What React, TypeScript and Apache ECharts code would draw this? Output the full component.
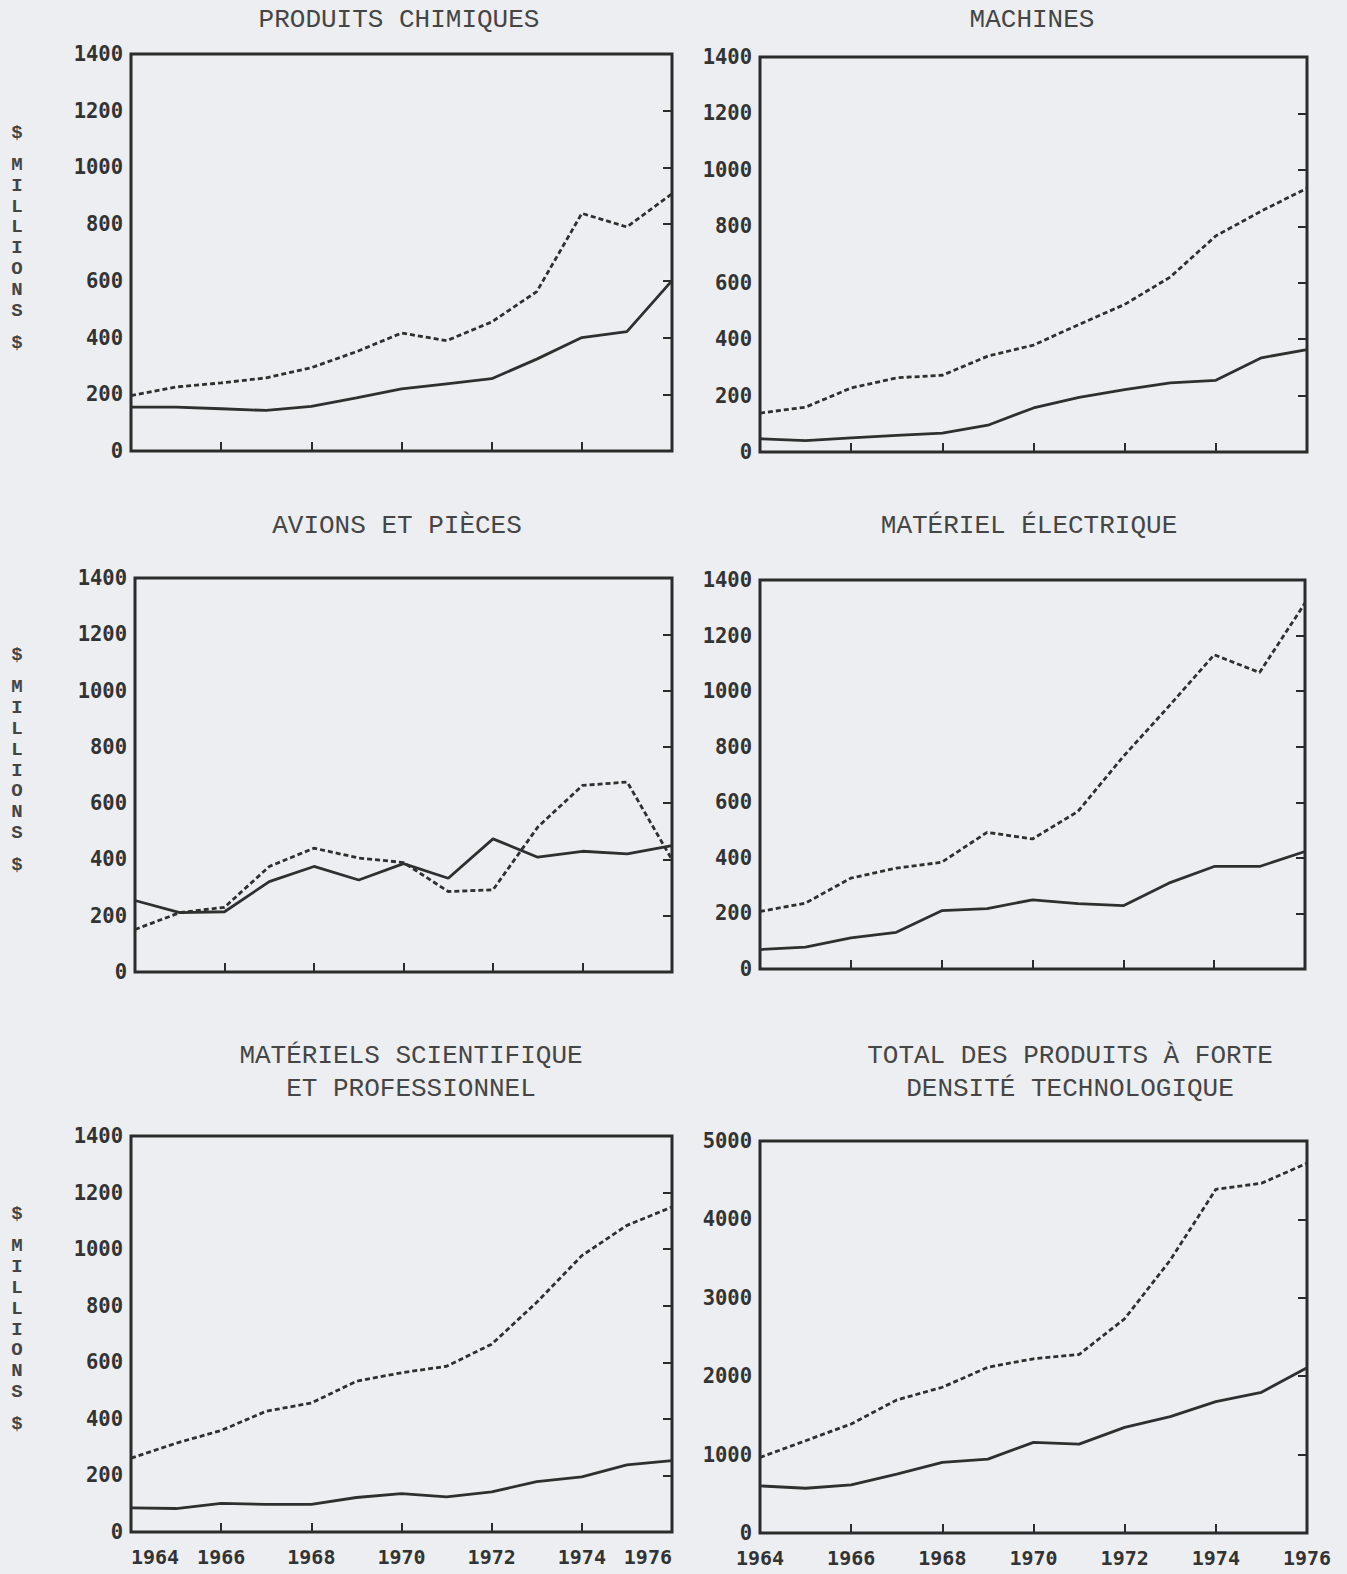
import React, { useEffect, useRef } from "react";
import * as echarts from "echarts";

const years = ["1964", "1965", "1966", "1967", "1968", "1969", "1970", "1971", "1972", "1973", "1974", "1975", "1976"];

const chimiquesExports = [155, 155, 149, 143, 157, 187, 219, 237, 255, 324, 400, 421, 601];
const chimiquesImports = [195, 226, 240, 258, 294, 350, 416, 389, 455, 562, 838, 790, 907];
const machinesExports = [47, 40, 50, 59, 67, 95, 156, 194, 221, 245, 254, 334, 363];
const machinesImports = [138, 159, 227, 263, 272, 340, 379, 452, 523, 620, 766, 854, 935];
const avionsExports = [254, 211, 214, 321, 375, 327, 385, 333, 473, 408, 429, 420, 449];
const avionsImports = [151, 211, 230, 375, 440, 405, 389, 286, 292, 515, 663, 675, 399];
const electriqueExports = [70, 79, 112, 132, 210, 217, 249, 235, 228, 309, 369, 369, 423];
const electriqueImports = [207, 237, 327, 363, 384, 492, 468, 567, 765, 945, 1131, 1067, 1317];
const scientExports = [85, 83, 101, 98, 98, 122, 136, 124, 142, 178, 195, 237, 252];
const scientImports = [261, 314, 359, 427, 456, 533, 563, 586, 664, 812, 977, 1084, 1149];
const totalExports = [601, 571, 614, 750, 900, 942, 1156, 1134, 1348, 1484, 1676, 1795, 2107];
const totalImports = [964, 1177, 1390, 1697, 1859, 2115, 2222, 2277, 2733, 3480, 4384, 4461, 4716];

const panelTitles = [
  ["PRODUITS CHIMIQUES"],
  ["MACHINES"],
  ["AVIONS ET PIÈCES"],
  ["MATÉRIEL ÉLECTRIQUE"],
  ["MATÉRIELS SCIENTIFIQUE", "ET PROFESSIONNEL"],
  ["TOTAL DES PRODUITS À FORTE", "DENSITÉ TECHNOLOGIQUE"],
];
const panelMax = [1400, 1400, 1400, 1400, 1400, 5000];
const panelInterval = [200, 200, 200, 200, 200, 1000];
const panelData = [
  [chimiquesExports, chimiquesImports],
  [machinesExports, machinesImports],
  [avionsExports, avionsImports],
  [electriqueExports, electriqueImports],
  [scientExports, scientImports],
  [totalExports, totalImports],
];

const grids = [
  { left: 131, top: 54, width: 541, height: 397 },
  { left: 760, top: 57, width: 547, height: 395 },
  { left: 135, top: 578, width: 537, height: 394 },
  { left: 760, top: 580, width: 545, height: 389 },
  { left: 131, top: 1136, width: 541, height: 396 },
  { left: 760, top: 1141, width: 547, height: 392 },
];
const titlePos = [
  { x: 399, y: [20] },
  { x: 1032, y: [20] },
  { x: 397, y: [526] },
  { x: 1029, y: [526] },
  { x: 411, y: [1056, 1089] },
  { x: 1070, y: [1056, 1089] },
];

const INK = "#2b2b2b";
const LABEL_FONT = "'DejaVu Sans Mono', monospace";
const TITLE_FONT = "'Liberation Mono', 'Courier New', monospace";

export default function App() {
  const ref = useRef<HTMLDivElement>(null);
  useEffect(() => {
    document.body.style.margin = "0";
    document.body.style.overflow = "hidden";
    const chart = echarts.init(ref.current!, null, { renderer: "svg" });
    const xAxis: any[] = [];
    const yAxis: any[] = [];
    const series: any[] = [];
    const graphic: any[] = [];
    grids.forEach((g, i) => {
      const bottomRow = i >= 4;
      const leftCol = i % 2 === 0;
      xAxis.push({
        type: "category",
        gridIndex: i,
        data: years,
        boundaryGap: false,
        axisLine: { show: false },
        axisTick: { show: true, inside: true, length: 9, lineStyle: { color: INK, width: 2 } },
        axisLabel: {
          show: bottomRow,
          interval: 1,
          margin: 15,
          fontFamily: LABEL_FONT,
          fontWeight: "bold",
          fontSize: 20,
          color: "#333",
          alignMinLabel: leftCol ? "left" : "center",
          alignMaxLabel: leftCol ? "right" : "center",
        },
        splitLine: { show: false },
      });
      yAxis.push({
        type: "value",
        gridIndex: i,
        min: 0,
        max: panelMax[i],
        interval: panelInterval[i],
        axisLine: { show: false },
        axisTick: { show: false },
        axisLabel: {
          margin: 8,
          padding: [0, 0, 10, 0],
          fontFamily: LABEL_FONT,
          fontWeight: "bold",
          fontSize: 20.5,
          color: "#333",
          formatter: (v: number) => String(v),
        },
        splitLine: { show: false },
      });
      yAxis.push({
        type: "value",
        gridIndex: i,
        position: "right",
        min: 0,
        max: panelMax[i],
        interval: panelInterval[i],
        axisLine: { show: false },
        axisTick: { show: true, inside: true, length: 9, lineStyle: { color: INK, width: 2 } },
        axisLabel: { show: false },
        splitLine: { show: false },
      });
      const [exp, imp] = panelData[i];
      series.push({
        type: "line",
        name: "Exportations",
        xAxisIndex: i,
        yAxisIndex: 2 * i,
        data: exp,
        symbol: "none",
        lineStyle: { color: "#2f2f2f", width: 2.8, type: "solid" },
      });
      series.push({
        type: "line",
        name: "Importations",
        xAxisIndex: i,
        yAxisIndex: 2 * i,
        data: imp,
        symbol: "none",
        lineStyle: { color: "#2f2f2f", width: 2.8, type: [5, 3] },
      });
      panelTitles[i].forEach((t, k) => {
        graphic.push({
          type: "text",
          x: titlePos[i].x,
          y: titlePos[i].y[k],
          style: {
            text: t,
            align: "center",
            verticalAlign: "middle",
            fontFamily: TITLE_FONT,
            fontSize: 26,
            fill: "#454545",
          },
        });
      });
    });
    // vertical "$ MILLIONS $" labels for each row
    [0, 2, 4].forEach((i) => {
      const g = grids[i];
      const c = g.top + g.height / 2 - 16;
      const base = {
        fontFamily: TITLE_FONT,
        fontSize: 19,
        fontWeight: "bold",
        fill: "#444",
        align: "center",
      };
      graphic.push({ type: "text", x: 17, y: c - 104, style: { ...base, text: "$", verticalAlign: "middle" } });
      graphic.push({
        type: "text",
        x: 17,
        y: c - 82,
        style: { ...base, text: "MILLIONS".split("").join("\n"), lineHeight: 20.8, verticalAlign: "top" },
      });
      graphic.push({ type: "text", x: 17, y: c + 106, style: { ...base, text: "$", verticalAlign: "middle" } });
    });

    chart.setOption({
      animation: false,
      backgroundColor: "#eceef1",
      grid: grids.map((g) => ({
        ...g,
        show: true,
        borderColor: INK,
        borderWidth: 3,
        backgroundColor: "transparent",
        containLabel: false,
      })),
      xAxis,
      yAxis,
      series,
      graphic,
    });
    return () => chart.dispose();
  }, []);
  return (
    <div
      ref={ref}
      style={{ position: "absolute", left: 0, top: 0, width: 1347, height: 1574, background: "#eceef1" }}
    />
  );
}
